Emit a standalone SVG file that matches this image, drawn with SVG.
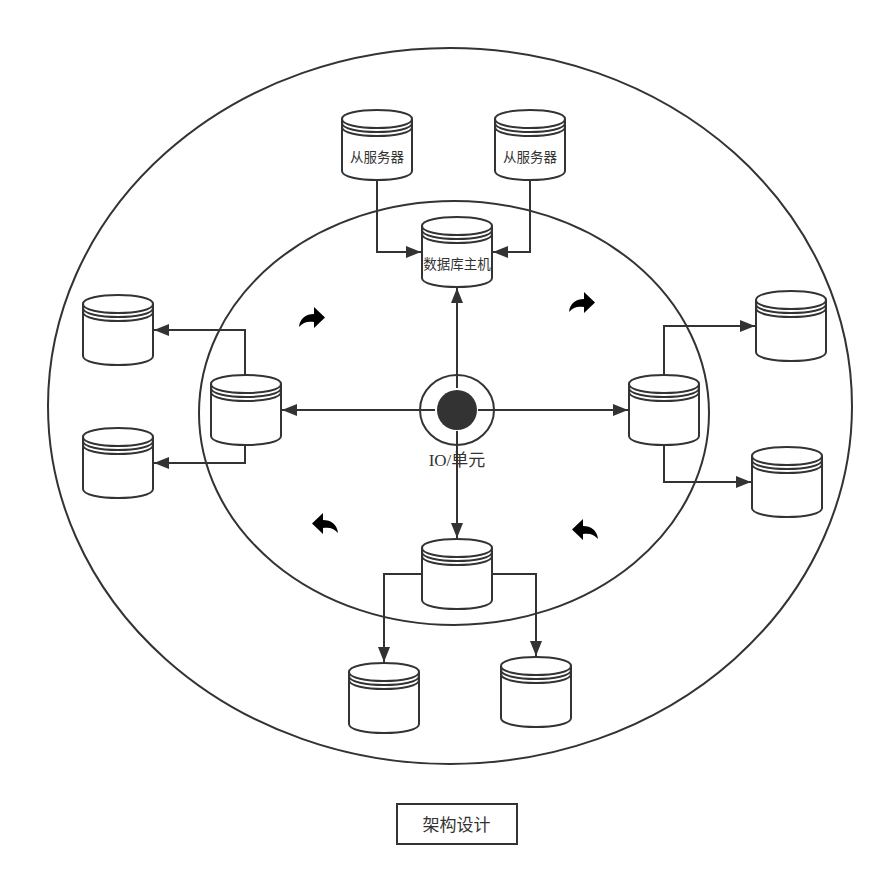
<svg xmlns="http://www.w3.org/2000/svg" width="884" height="876" viewBox="0 0 884 876">
<style>
.l{fill:none;stroke:#333;stroke-width:2}
.c{fill:#fff;stroke:#333;stroke-width:2}
.t{font-family:"Liberation Sans","Noto Sans CJK SC",sans-serif;fill:#333;text-anchor:middle}
</style>
<defs>
<marker id="a" markerUnits="userSpaceOnUse" markerWidth="16" markerHeight="14" refX="15" refY="6" orient="auto"><path d="M0 0L15 6L0 12Z" fill="#333"/></marker>
<g id="cyl"><path class="c" d="M0 9C0-3 70-3 70 9V61C70 73 0 73 0 61Z"/><path class="l" d="M0 9C0 21 70 21 70 9M0 13C0 25 70 25 70 13M0 17C0 29 70 29 70 17"/></g>
<path id="rt" d="M0 20C1 11 7 7 15 7V0L26 10.500L15 21V15C9 14 4 15 0 20Z" fill="#000"/>
<path id="lf" d="M26 20C25 11 19 7 11 7V0L0 10.500L11 21V15C17 14 22 15 26 20Z" fill="#000"/>
</defs>
<g id="outer-ring"><ellipse class="l" cx="450" cy="406" rx="402" ry="358"/></g>
<g id="inner-ring"><ellipse class="l" cx="454" cy="413" rx="255" ry="212"/></g>
<g id="connectors">
<path class="l" marker-end="url(#a)" d="M377 180V252H421"/>
<path class="l" marker-end="url(#a)" d="M530 180V252H493"/>
<path class="l" marker-end="url(#a)" d="M457 388V288"/>
<path class="l" marker-end="url(#a)" d="M435 410H282"/>
<path class="l" marker-end="url(#a)" d="M478 410H628"/>
<path class="l" marker-end="url(#a)" d="M457 431V538"/>
<path class="l" marker-end="url(#a)" d="M245 375V330H154"/>
<path class="l" marker-end="url(#a)" d="M245 445V463H154"/>
<path class="l" marker-end="url(#a)" d="M664 375V326H755"/>
<path class="l" marker-end="url(#a)" d="M664 445V482H751"/>
<path class="l" marker-end="url(#a)" d="M422 574H384V662"/>
<path class="l" marker-end="url(#a)" d="M492 574H536V656"/>
</g>
<g id="slave-1"><use href="#cyl" x="342" y="110"/><text class="t" x="377" y="161.500" font-size="13.500">从服务器</text></g>
<g id="slave-2"><use href="#cyl" x="495" y="110"/><text class="t" x="530" y="161.500" font-size="13.500">从服务器</text></g>
<g id="master"><use href="#cyl" x="422" y="217"/><text class="t" x="457" y="268.500" font-size="13.500">数据库主机</text></g>
<g id="left-node"><use href="#cyl" x="211" y="375"/></g>
<g id="right-node"><use href="#cyl" x="629" y="375"/></g>
<g id="bottom-node"><use href="#cyl" x="422" y="539"/></g>
<g id="left-a"><use href="#cyl" x="83" y="295"/></g>
<g id="left-b"><use href="#cyl" x="83" y="428"/></g>
<g id="right-a"><use href="#cyl" x="756" y="291"/></g>
<g id="right-b"><use href="#cyl" x="752" y="447"/></g>
<g id="bottom-a"><use href="#cyl" x="349" y="663"/></g>
<g id="bottom-b"><use href="#cyl" x="501" y="657"/></g>
<g id="io-unit">
<ellipse class="l" cx="457" cy="410" rx="37" ry="35"/>
<circle cx="457" cy="410" r="20" fill="#333"/>
<text x="457" y="466" font-size="17" text-anchor="middle" fill="#333" font-family="'Liberation Serif','Noto Sans CJK SC',serif">IO/单元</text>
</g>
<g id="rotation-arrows">
<use href="#rt" x="299" y="307"/>
<use href="#rt" x="569" y="292"/>
<use href="#lf" x="312" y="513"/>
<use href="#lf" x="572" y="519"/>
</g>
<g id="title"><rect x="397" y="804" width="120" height="40" class="c"/><text class="t" x="456.500" y="831" font-size="17">架构设计</text></g>
</svg>
